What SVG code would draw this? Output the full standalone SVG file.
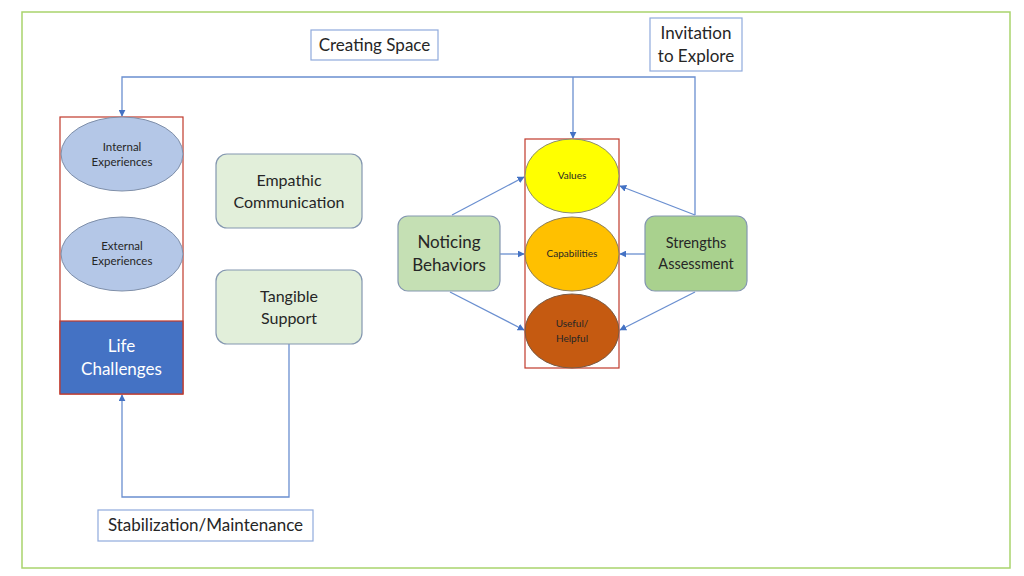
<svg xmlns="http://www.w3.org/2000/svg" width="1024" height="576" viewBox="0 0 1024 576">
<defs>
<marker id="ah" viewBox="0 0 10 10" refX="9" refY="5" markerWidth="7" markerHeight="7" orient="auto" markerUnits="userSpaceOnUse">
<path d="M0,0 L10,5 L0,10 z" fill="#4472C4"/>
</marker>
<style>
text{font-family:Lato,"Liberation Sans",sans-serif;fill:#262626;text-anchor:middle}
.conn{fill:none;stroke:#6A8FD0;stroke-width:1.3}
.lbl{fill:#fff;stroke:#8FAADC;stroke-width:1.2}
.grp{fill:none;stroke:#C0392B;stroke-width:1.2}
.node{stroke:#8497B0;stroke-width:1.2}
.ell{fill:#B4C7E7;stroke:#7F8FA9;stroke-width:1}
.big{font-size:16px}
.lb{font-size:17px}
.sm{font-size:11.5px}
.xs{font-size:10px}
</style>
</defs>
<rect width="1024" height="576" fill="#fff"/>
<rect x="22" y="12" width="988" height="556" fill="none" stroke="#A9D46C" stroke-width="1.5"/>

<g id="connectors">
<path class="conn" d="M695,215 V77 H122 V116" marker-end="url(#ah)"/>
<path class="conn" d="M573,77 V138" marker-end="url(#ah)"/>
<path class="conn" d="M289,344 V497 H122 V395" marker-end="url(#ah)"/>
<path class="conn" d="M452,215 L524,177" marker-end="url(#ah)"/>
<path class="conn" d="M500,254 L524,254" marker-end="url(#ah)"/>
<path class="conn" d="M450,292 L524,330" marker-end="url(#ah)"/>
<path class="conn" d="M695,215 L620,186" marker-end="url(#ah)"/>
<path class="conn" d="M645,254 L620,254" marker-end="url(#ah)"/>
<path class="conn" d="M695,292 L620,330" marker-end="url(#ah)"/>
</g>

<g id="creating-space">
<rect class="lbl" x="311" y="30" width="127" height="30"/>
<text class="lb" x="374.5" y="51">Creating Space</text>
</g>
<g id="invitation">
<rect class="lbl" x="650" y="18" width="92" height="53"/>
<text class="lb" x="696" y="39">Invitation</text>
<text class="lb" x="696" y="62">to Explore</text>
</g>
<g id="stabilization">
<rect class="lbl" x="98" y="510" width="215" height="31"/>
<text class="lb" x="205.5" y="531">Stabilization/Maintenance</text>
</g>

<g id="left-group">
<rect class="grp" x="60" y="117" width="123" height="277"/>
</g>
<g id="internal-experiences">
<ellipse class="ell" cx="122" cy="154" rx="61" ry="37"/>
<text class="sm" x="122" y="151">Internal</text>
<text class="sm" x="122" y="166">Experiences</text>
</g>
<g id="external-experiences">
<ellipse class="ell" cx="122" cy="254" rx="61" ry="37"/>
<text class="sm" x="122" y="250">External</text>
<text class="sm" x="122" y="265">Experiences</text>
</g>
<g id="life-challenges">
<rect x="60" y="321" width="123" height="73" fill="#4472C4" stroke="#C0392B" stroke-width="1.2"/>
<text class="lb" x="121.5" y="352" style="fill:#fff">Life</text>
<text class="lb" x="121.5" y="375" style="fill:#fff">Challenges</text>
</g>

<g id="empathic-communication">
<rect class="node" x="216" y="154" width="146" height="74" rx="11" fill="#E2EFDA"/>
<text class="big" x="289" y="186">Empathic</text>
<text class="big" x="289" y="208">Communication</text>
</g>
<g id="tangible-support">
<rect class="node" x="216" y="270" width="146" height="74" rx="11" fill="#E2EFDA"/>
<text class="big" x="289" y="302">Tangible</text>
<text class="big" x="289" y="324">Support</text>
</g>

<g id="right-group">
<rect class="grp" x="525" y="139" width="94" height="229"/>
</g>
<g id="values">
<ellipse cx="572" cy="176" rx="47" ry="37" fill="#FFFF00" stroke="#8C8C6E" stroke-width="1"/>
<text class="xs" x="572" y="179">Values</text>
</g>
<g id="capabilities">
<ellipse cx="572" cy="254" rx="47" ry="37" fill="#FFC000" stroke="#8C7E5A" stroke-width="1"/>
<text class="xs" x="572" y="257">Capabilities</text>
</g>
<g id="useful-helpful">
<ellipse cx="572" cy="331" rx="47" ry="37" fill="#C55A11" stroke="#7A5A44" stroke-width="1"/>
<text class="xs" x="572" y="327">Useful/</text>
<text class="xs" x="572" y="342">Helpful</text>
</g>

<g id="noticing-behaviors">
<rect class="node" x="398" y="216" width="102" height="75" rx="10" fill="#C5E0B4"/>
<text x="449" y="248" style="font-size:17px">Noticing</text>
<text x="449" y="271" style="font-size:17px">Behaviors</text>
</g>
<g id="strengths-assessment">
<rect class="node" x="645" y="216" width="102" height="75" rx="10" fill="#A9D18E"/>
<text x="696" y="248" style="font-size:14.5px">Strengths</text>
<text x="696" y="269" style="font-size:14.5px">Assessment</text>
</g>
</svg>
